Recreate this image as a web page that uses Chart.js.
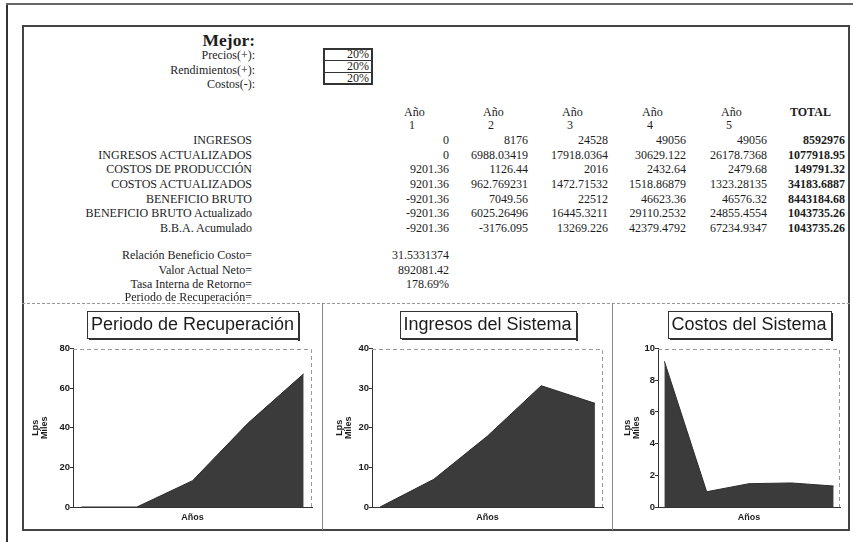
<!DOCTYPE html>
<html lang="es">
<head>
<meta charset="utf-8">
<title>Mejor</title>
<script src="https://cdn.jsdelivr.net/npm/chart.js@4.4.0/dist/chart.umd.min.js"></script>
<style>
  html, body { margin: 0; padding: 0; background: #fff; }
  #page { position: relative; width: 853px; height: 542px; overflow: hidden;
          font-family: "Liberation Serif", "Times New Roman", serif; font-size: 12px; color: #1c1c1c; }
  .t { position: absolute; white-space: nowrap; line-height: 14px; }
  .r { transform: translate(-100%, -50%); }
  .l { transform: translate(0, -50%); }
  .b { font-weight: bold; }
  .ln { position: absolute; box-sizing: border-box; }
  canvas { position: absolute; }
</style>
</head>
<body>
<div id="page">
  <!-- marcos -->
  <div class="ln" style="left:6px;top:3px;width:2px;height:539px;background:#333"></div>
  <div class="ln" style="left:6px;top:3px;width:847px;height:2px;background:#666"></div>
  <div class="ln" style="left:22px;top:25px;width:828px;height:506px;border:2px solid #444"></div>
  <div class="ln" style="left:22px;top:303px;width:828px;height:0;border-top:1px dashed #999"></div>
  <div class="ln" style="left:322px;top:303px;width:1px;height:227px;background:#888"></div>
  <div class="ln" style="left:612px;top:303px;width:1px;height:227px;background:#888"></div>
  <!-- casillas de porcentajes -->
  <div class="ln" style="left:323px;top:48px;width:50px;height:37px;border:2px solid #333"></div>
  <div class="ln" style="left:323px;top:60px;width:50px;height:1px;background:#333"></div>
  <div class="ln" style="left:323px;top:72px;width:50px;height:1px;background:#333"></div>

  <canvas id="g1" width="300" height="227" style="left:22px;top:303px"></canvas>
  <canvas id="g2" width="290" height="227" style="left:322px;top:303px"></canvas>
  <canvas id="g3" width="238" height="227" style="left:612px;top:303px"></canvas>
</div>
<script>
// Datos de la hoja
const supuestos = ['Precios(+):', 'Rendimientos(+):', 'Costos(-):'];
const porcentajes = ['20%', '20%', '20%'];
const anios = ['1', '2', '3', '4', '5'];
const filas = ['INGRESOS', 'INGRESOS ACTUALIZADOS', 'COSTOS DE PRODUCCIÓN', 'COSTOS ACTUALIZADOS',
               'BENEFICIO BRUTO', 'BENEFICIO BRUTO Actualizado', 'B.B.A. Acumulado'];
const ingresos          = ['0', '8176', '24528', '49056', '49056'];
const ingresosAct       = ['0', '6988.03419', '17918.0364', '30629.122', '26178.7368'];
const costosProd        = ['9201.36', '1126.44', '2016', '2432.64', '2479.68'];
const costosAct         = ['9201.36', '962.769231', '1472.71532', '1518.86879', '1323.28135'];
const beneficioBruto    = ['-9201.36', '7049.56', '22512', '46623.36', '46576.32'];
const beneficioAct      = ['-9201.36', '6025.26496', '16445.3211', '29110.2532', '24855.4554'];
const bbaAcumulado      = ['-9201.36', '-3176.095', '13269.226', '42379.4792', '67234.9347'];
const totales = ['8592976', '1077918.95', '149791.32', '34183.6887', '8443184.68', '1043735.26', '1043735.26'];
const indicadores = ['Relación Beneficio Costo=', 'Valor Actual Neto=', 'Tasa Interna de Retorno=', 'Periodo de Recuperación='];
const valoresInd = ['31.5331374', '892081.42', '178.69%', ''];
// ejes de los graficos (miles de Lps)
const maxY = [80, 40, 10];
const pasoY = [20, 10, 2];

const page = document.getElementById('page');
function txt(s, x, y, cls, extra) {
  const d = document.createElement('div');
  d.className = 't ' + cls;
  d.textContent = s;
  d.style.left = x + 'px';
  d.style.top = y + 'px';
  if (extra) d.style.cssText += extra;
  page.appendChild(d);
}

txt('Mejor:', 255, 40, 'r b', 'font-size:17.5px;line-height:20px');
supuestos.forEach((s, i) => txt(s, 255, [55, 70, 83.5][i], 'r'));
porcentajes.forEach((s, i) => txt(s, 369, [54, 66, 78][i], 'r'));

const colAnio = [404, 483, 562, 642, 721];
const colDer = [449, 528, 608, 686, 767];
anios.forEach((a, i) => {
  txt('Año', colAnio[i], 112, 'l');
  txt(a, colAnio[i] + 5, 125, 'l');
});
txt('TOTAL', 790, 112, 'l b');

const tabla = [ingresos, ingresosAct, costosProd, costosAct, beneficioBruto, beneficioAct, bbaAcumulado];
filas.forEach((f, i) => {
  const y = 140 + i * 14.67;
  txt(f, 252, y, 'r');
  tabla[i].forEach((v, j) => txt(v, colDer[j], y, 'r'));
  txt(totales[i], 845, y, 'r b');
});
indicadores.forEach((f, i) => {
  const y = [255, 270, 284, 297][i];
  txt(f, 252, y, 'r');
  if (valoresInd[i]) txt(valoresInd[i], 449, y, 'r');
});

// Graficos: miles de Lps; como en Excel, lo que queda bajo el minimo del eje se dibuja sobre el eje
const miles = arr => arr.map(v => Math.max(Number(v) / 1000, 0));

const marco = {
  id: 'marco',
  afterDraw(chart) {
    const { ctx, chartArea: a } = chart;
    ctx.save();
    ctx.strokeStyle = '#9a9a9a';
    ctx.lineWidth = 1;
    ctx.setLineDash([4, 3]);
    ctx.beginPath();
    ctx.moveTo(a.left, Math.round(a.top) + 0.5);
    ctx.lineTo(Math.round(a.right) - 0.5, Math.round(a.top) + 0.5);
    ctx.lineTo(Math.round(a.right) - 0.5, a.bottom);
    ctx.stroke();
    ctx.setLineDash([]);
    const t = chart.titleBlock;
    ctx.font = '18px "Liberation Sans", Arial, sans-serif';
    const w = Math.round(ctx.measureText(t.options.text).width + 8);
    const cx = t.left + t.width / 2;
    const cy = t.top + 11 + 10.8;
    const x = Math.round(cx - w / 2) + 0.5, y = Math.round(cy - 14) + 0.5, h = 27;
    ctx.strokeStyle = '#333';
    ctx.strokeRect(x, y, w, h);
    ctx.fillStyle = '#333';
    ctx.fillRect(x + w - 0.5, y + 1.5, 2, h + 1);
    ctx.fillRect(x + 1.5, y + h - 0.5, w, 2);
    ctx.restore();
  }
};

function grafico(id, titulo, valores, n, anchoEje, padDer, padTitulo) {
  new Chart(document.getElementById(id), {
    type: 'line',
    data: {
      datasets: [{
        data: valores.map((v, i) => ({ x: i + 1, y: v })),
        fill: 'origin',
        backgroundColor: '#3b3b3b',
        borderColor: '#2c2c2c',
        borderWidth: 1,
        pointRadius: 0,
        tension: 0,
        clip: 0
      }]
    },
    options: {
      responsive: false,
      animation: false,
      layout: { padding: { left: 0, right: padDer, top: 0, bottom: 0 } },
      plugins: {
        legend: { display: false },
        tooltip: { enabled: false },
        title: {
          display: true, text: titulo, fullSize: false, color: '#1c1c1c',
          font: { family: '"Liberation Sans", Arial, sans-serif', size: 18, weight: 'normal', lineHeight: 1.2 },
          padding: { top: 11, bottom: 13 }
        }
      },
      scales: {
        x: {
          type: 'linear', min: 0.85, max: 5.15,
          ticks: { display: false },
          grid: { display: false },
          border: { display: true, color: '#333', width: 1 },
          title: { display: true, text: 'Años', color: '#1c1c1c',
                   font: { family: '"Liberation Sans", Arial, sans-serif', size: 9, weight: 'bold', lineHeight: 1.2 },
                   padding: { top: 0, bottom: 7 } },
          afterFit: s => { s.height = 23; }
        },
        y: {
          min: 0, max: maxY[n],
          ticks: { stepSize: pasoY[n], padding: 0, color: '#1c1c1c',
                   font: { family: '"Liberation Sans", Arial, sans-serif', size: 9.5, weight: 'bold' } },
          grid: { display: true, drawOnChartArea: false, drawTicks: true, tickLength: 3, color: '#333' },
          border: { display: true, color: '#333', width: 1 },
          title: { display: true, text: ['Lps', 'Miles'], color: '#1c1c1c',
                   font: { family: '"Liberation Sans", Arial, sans-serif', size: 9, weight: 'bold', lineHeight: 1 },
                   padding: { top: padTitulo, bottom: 0 } },
          afterFit: s => { s.width = anchoEje; }
        }
      }
    },
    plugins: [marco]
  });
}

grafico('g1', 'Periodo de Recuperación', miles(bbaAcumulado), 0, 51, 10, 9);
grafico('g2', 'Ingresos del Sistema', miles(ingresosAct), 1, 50, 9, 13.5);
grafico('g3', 'Costos del Sistema', miles(costosAct), 2, 46, 10, 11.5);
</script>
</body>
</html>
